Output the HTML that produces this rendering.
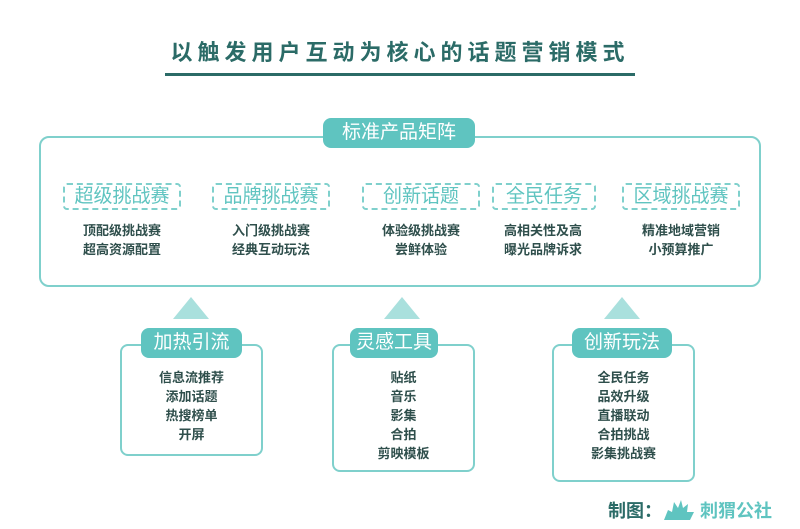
<!DOCTYPE html>
<html><head><meta charset="utf-8"><style>
body{margin:0;width:800px;height:529px;background:#fff;position:relative;overflow:hidden;font-family:"Liberation Sans","Noto Sans CJK SC",sans-serif}
.a{position:absolute}
.title{left:165px;top:38px;width:470px;text-align:center;font-size:22px;font-weight:bold;color:#2b6b67;letter-spacing:5px;white-space:nowrap;border-bottom:3px solid #2b6b67;padding-bottom:5px;line-height:30px}
.big{left:39px;top:136px;width:718px;height:147px;border:2px solid #7fd0cc;border-radius:10px}
.tab{background:#5fc4c0;color:#fff;border-radius:8px;text-align:center;font-size:19px;line-height:30px}
.dash{border:2px dashed #7fd0cc;border-radius:4px;color:#5fc4c0;font-size:19px;text-align:center;line-height:23px;height:23px}
.t{color:#2f4f4c;font-size:13px;text-align:center;line-height:19px;font-weight:bold}
.box{border:2px solid #7fd0cc;border-radius:8px}
.tri{width:0;height:0;border-left:18px solid transparent;border-right:18px solid transparent;border-bottom:22px solid #a9e0dd}
</style></head><body>
<div class="a title">以触发用户互动为核心的话题营销模式</div>
<div class="a big"></div>
<div class="a tab" style="left:323px;top:118px;width:152px">标准产品矩阵</div>
<div class="a dash" style="left:63px;top:183px;width:114px">超级挑战赛</div>
<div class="a dash" style="left:212px;top:183px;width:114px">品牌挑战赛</div>
<div class="a dash" style="left:362px;top:183px;width:114px">创新话题</div>
<div class="a dash" style="left:492px;top:183px;width:100px">全民任务</div>
<div class="a dash" style="left:622px;top:183px;width:114px">区域挑战赛</div>
<div class="a t" style="left:63px;top:221px;width:118px">顶配级挑战赛<br>超高资源配置</div>
<div class="a t" style="left:212px;top:221px;width:118px">入门级挑战赛<br>经典互动玩法</div>
<div class="a t" style="left:362px;top:221px;width:118px">体验级挑战赛<br>尝鲜体验</div>
<div class="a t" style="left:484px;top:221px;width:118px">高相关性及高<br>曝光品牌诉求</div>
<div class="a t" style="left:622px;top:221px;width:118px">精准地域营销<br>小预算推广</div>
<div class="a tri" style="left:173px;top:297px"></div>
<div class="a tri" style="left:384px;top:297px"></div>
<div class="a tri" style="left:604px;top:297px"></div>
<div class="a box" style="left:120px;top:344px;width:139px;height:108px"></div>
<div class="a box" style="left:332px;top:344px;width:139px;height:124px"></div>
<div class="a box" style="left:552px;top:344px;width:139px;height:134px"></div>
<div class="a tab" style="left:141px;top:328px;width:101px">加热引流</div>
<div class="a tab" style="left:350px;top:328px;width:88px">灵感工具</div>
<div class="a tab" style="left:572px;top:328px;width:100px">创新玩法</div>
<div class="a t" style="left:120px;top:368px;width:143px">信息流推荐<br>添加话题<br>热搜榜单<br>开屏</div>
<div class="a t" style="left:332px;top:368px;width:143px">贴纸<br>音乐<br>影集<br>合拍<br>剪映模板</div>
<div class="a t" style="left:552px;top:368px;width:143px">全民任务<br>品效升级<br>直播联动<br>合拍挑战<br>影集挑战赛</div>
<div class="a" style="left:608px;top:497px;font-size:18px;font-weight:bold;color:#2b6b67">制图：</div>
<svg class="a" style="left:662px;top:498px" width="34" height="24"><path d="M2 22 L6 12 L10 14 L12 4 L16 10 L19 2 L21 10 L26 6 L25 14 L32 14 L28 22 Z" fill="#5fc4c0"/></svg>
<div class="a" style="left:700px;top:497px;font-size:18px;font-weight:bold;color:#5fc4c0">刺猬公社</div>
</body></html>
